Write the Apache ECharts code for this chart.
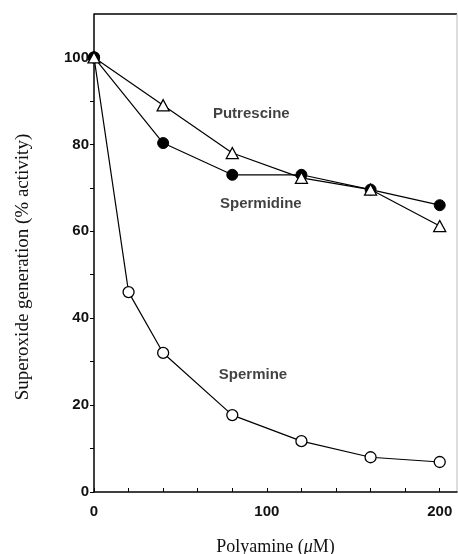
<!DOCTYPE html>
<html><head><meta charset="utf-8">
<script src="https://cdn.jsdelivr.net/npm/echarts@6/dist/echarts.min.js"></script>
<style>html,body{margin:0;padding:0;background:#fff}#c{width:458px;height:554px}</style>
</head><body><div id="c"></div>
<script>
const conc = [0, 40, 80, 120, 160, 200];
const putrescine = [100, 89, 78, 72.3, 69.6, 61.2];
const spermidine = [100, 80.3, 73, 73, 69.6, 66];
const spermineConc = [0, 20, 40, 80, 120, 160, 200];
const spermine = [100, 46, 32, 17.7, 11.7, 8, 6.9];
const labelNames = ['Putrescine', 'Spermidine', 'Spermine'];
const labelX = [91, 96.5, 92];
const labelY = [87, 66.2, 27];
const xTicks = [0, 20, 40, 60, 80, 100, 120, 140, 160, 180, 200];
const xLabels = [0, 100, 200];
const yTicks = [0, 10, 20, 30, 40, 50, 60, 70, 80, 90, 100];
const yLabels = [0, 20, 40, 60, 80, 100];

const zip = (xs, ys) => xs.map((x, i) => [x, ys[i]]);
const chart = echarts.init(document.getElementById('c'));
const lineBase = {
  type: 'line', symbolSize: 11,
  lineStyle: { color: '#000', width: 1.2 },
  itemStyle: { color: '#fff', borderColor: '#000', borderWidth: 1.3 },
  emphasis: { disabled: true }, z: 3
};
const tickFont = { fontFamily: 'Liberation Sans', fontSize: 15, fontWeight: 'bold', color: '#111' };
chart.setOption({
  animation: false,
  grid: { left: 94, top: 14, right: 1, bottom: 62, containLabel: false, outerBoundsMode: 'none' },
  xAxis: {
    type: 'value', min: 0, max: 210,
    name: 'Polyamine ({i|μ}M)', nameLocation: 'middle', nameGap: 46,
    nameTextStyle: { fontFamily: 'Liberation Serif', fontSize: 18, color: '#111',
      rich: { i: { fontFamily: 'Liberation Serif', fontSize: 18, fontStyle: 'italic', color: '#111' } } },
    axisLine: { lineStyle: { color: '#000', width: 1.5 } },
    axisTick: { inside: true, length: 4, customValues: xTicks, lineStyle: { color: '#000' } },
    axisLabel: Object.assign({ customValues: xLabels, margin: 12 }, tickFont),
    splitLine: { show: false }
  },
  yAxis: {
    type: 'value', min: 0, max: 110,
    axisLine: { lineStyle: { color: '#000', width: 1.5 } },
    axisTick: { inside: false, length: 4, customValues: yTicks, lineStyle: { color: '#000' } },
    axisLabel: Object.assign({ customValues: yLabels, margin: 5 }, tickFont),
    splitLine: { show: false }
  },
  graphic: [
    { type: 'text', x: 23, y: 267, rotation: Math.PI / 2,
      style: { text: 'Superoxide generation (% activity)', font: '19px "Liberation Serif"', fill: '#111', align: 'center', verticalAlign: 'middle' } },
    { type: 'line', shape: { x1: 94, y1: 14, x2: 457, y2: 14 }, style: { stroke: '#000', lineWidth: 1.5 } },
    { type: 'line', shape: { x1: 457, y1: 14, x2: 457, y2: 492 }, style: { stroke: '#bbb', lineWidth: 1 } }
  ],
  series: [
    Object.assign({}, lineBase, { name: 'Spermine', symbol: 'circle', data: zip(spermineConc, spermine) }),
    Object.assign({}, lineBase, { name: 'Spermidine', symbol: 'circle', itemStyle: { color: '#000', borderColor: '#000', borderWidth: 1 }, data: zip(conc, spermidine) }),
    Object.assign({}, lineBase, { name: 'Putrescine', symbol: 'triangle', symbolSize: [12, 11], data: zip(conc, putrescine), z: 4 }),
    { type: 'scatter', symbolSize: 0, silent: true, z: 5,
      data: labelNames.map((n, i) => ({ value: [labelX[i], labelY[i]], name: n })),
      label: { show: true, position: 'inside', formatter: p => p.name, fontFamily: 'Liberation Sans', fontSize: 15, fontWeight: 'bold', color: '#111' } }
  ]
});
</script></body></html>
